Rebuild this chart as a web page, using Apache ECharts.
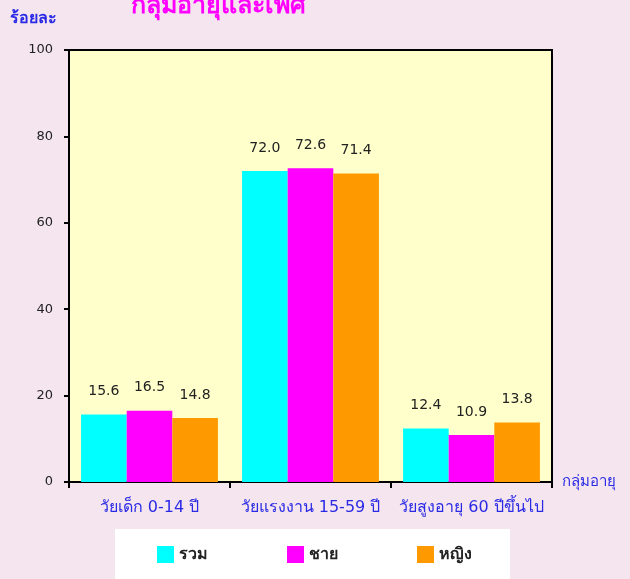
<!DOCTYPE html>
<html>
<head>
<meta charset="utf-8">
<script src="https://cdn.jsdelivr.net/npm/echarts@6/dist/echarts.min.js"></script>
<style>
  html, body { margin: 0; padding: 0; background: #F4E5EE; }
  #main { width: 630px; height: 579px; }
</style>
</head>
<body>
<div id="main"></div>
<script>
// ข้อมูล
var categories = ['วัยเด็ก 0-14 ปี', 'วัยแรงงาน 15-59 ปี', 'วัยสูงอายุ 60 ปีขึ้นไป'];
var seriesNames = ['รวม', 'ชาย', 'หญิง'];
var total = [15.6, 72.0, 12.4];
var male = [16.5, 72.6, 10.9];
var female = [14.8, 71.4, 13.8];
var colors = ['#00FFFF', '#FF00FF', '#FF9900'];

var font = 'Tahoma, "DejaVu Sans", "Noto Sans", sans-serif';

function makeBar(name, values, color) {
    return {
        name: name,
        type: 'bar',
        data: values,
        barGap: '0%',
        barCategoryGap: '15%',
        itemStyle: { color: color },
        label: {
            show: true,
            position: 'top',
            distance: 16,
            color: '#222',
            fontSize: 14,
            fontFamily: font,
            formatter: function (p) { return p.value.toFixed(1); }
        }
    };
}

var chart = echarts.init(document.getElementById('main'));
var option = {
    backgroundColor: '#F4E5EE',
    animation: false,
    title: {
        text: 'กลุ่มอายุและเพศ',
        left: 213,
        top: -11,
        textAlign: 'center',
        textStyle: { color: '#FF00FF', fontSize: 25, fontWeight: 'bold', fontFamily: font }
    },
    legend: {
        data: seriesNames,
        left: 115,
        top: 529,
        backgroundColor: '#FFFFFF',
        padding: [17, 38, 30, 42],
        itemWidth: 17,
        itemHeight: 17,
        itemGap: 79,
        icon: 'rect',
        textStyle: { color: '#222', fontSize: 16, fontWeight: 'bold', fontFamily: font }
    },
    grid: {
        left: 69,
        right: 78,
        top: 50,
        bottom: 97,
        show: true,
        backgroundColor: '#FFFFCC',
        borderColor: '#000',
        borderWidth: 2
    },
    xAxis: {
        type: 'category',
        data: categories,
        name: 'กลุ่มอายุ',
        nameLocation: 'end',
        nameGap: 10,
        nameTextStyle: { color: '#2A2AE6', fontSize: 15, fontFamily: font, verticalAlign: 'middle' },
        axisLine: { lineStyle: { color: '#000', width: 2 } },
        axisTick: { show: true, length: 6, lineStyle: { color: '#000', width: 2 } },
        axisLabel: { color: '#2A2AE6', fontSize: 16, margin: 18, fontFamily: font, interval: 0 }
    },
    yAxis: {
        type: 'value',
        min: 0,
        max: 100,
        interval: 20,
        name: 'ร้อยละ',
        nameLocation: 'end',
        nameGap: 23,
        nameTextStyle: { color: '#2A2AE6', fontSize: 16, fontWeight: 'bold', fontFamily: font, align: 'right', padding: [0, 12, 0, 0] },
        axisLine: { show: true, lineStyle: { color: '#000', width: 2 } },
        axisTick: { show: true, length: 5, lineStyle: { color: '#000', width: 2 } },
        axisLabel: { color: '#222', fontSize: 13, margin: 16, fontFamily: font },
        splitLine: { show: false }
    },
    series: [
        makeBar(seriesNames[0], total, colors[0]),
        makeBar(seriesNames[1], male, colors[1]),
        makeBar(seriesNames[2], female, colors[2])
    ]
};
chart.setOption(option);
</script>
</body>
</html>
